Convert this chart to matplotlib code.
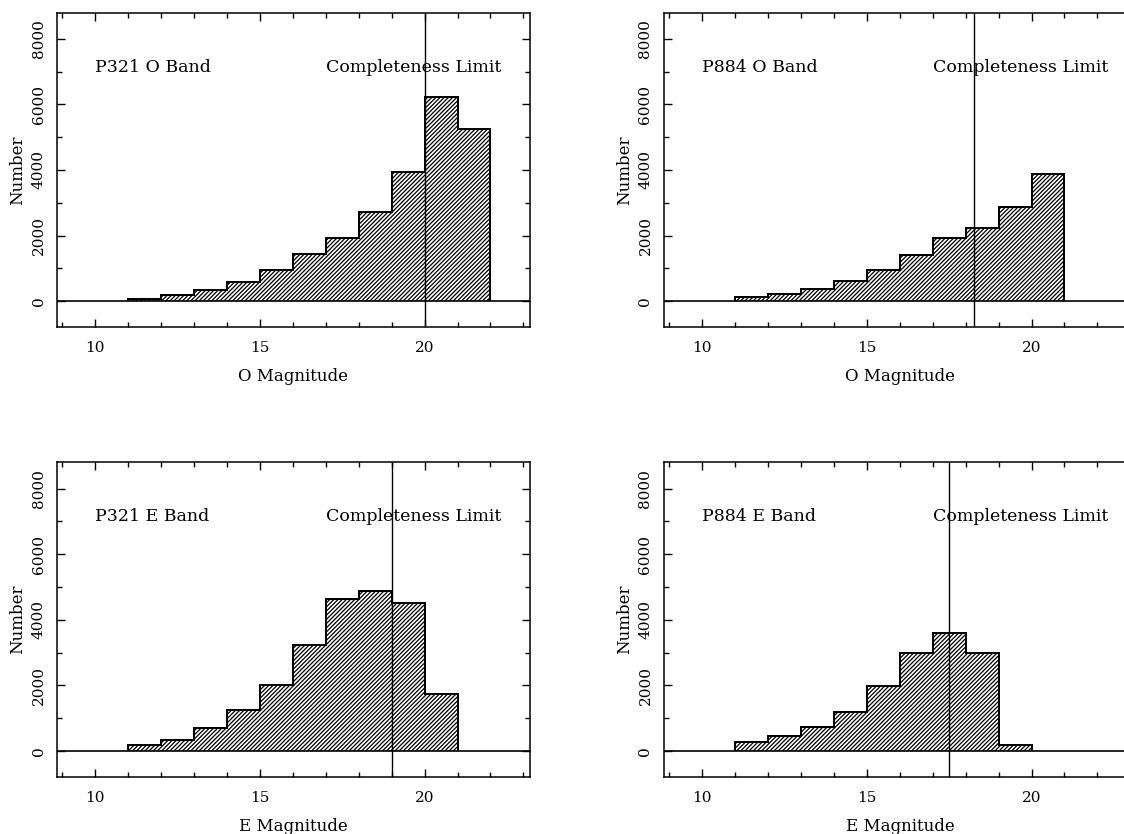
import matplotlib.pyplot as plt
import numpy as np
from matplotlib.ticker import MultipleLocator

plt.rcParams['font.family'] = 'DejaVu Serif'
plt.rcParams['hatch.linewidth'] = 0.9

# star counts per 1-mag bin, first bin starts at 11 mag
p321_o = [70, 180, 325, 580, 960, 1440, 1925, 2705, 3925, 6230, 5235]
p884_o = [120, 200, 355, 600, 945, 1390, 1915, 2240, 2870, 3885]
p321_e = [170, 345, 705, 1250, 2020, 3220, 4635, 4875, 4515, 1735]
p884_e = [260, 445, 725, 1190, 1970, 3000, 3605, 2990, 190]
first_bin = 11

titles = ['P321 O Band', 'P884 O Band', 'P321 E Band', 'P884 E Band']
xlabels = ['O Magnitude', 'O Magnitude', 'E Magnitude', 'E Magnitude']
limits = [20.0, 18.25, 19.0, 17.5]
counts = [p321_o, p884_o, p321_e, p884_e]

# panel rectangles in figure fractions (right column runs off the page edge)
boxes = [[0.0504, 0.6076, 0.4211, 0.3772],
         [0.5904, 0.6076, 0.4211, 0.3772],
         [0.0504, 0.0683, 0.4211, 0.3772],
         [0.5904, 0.0683, 0.4211, 0.3772]]

fig = plt.figure(figsize=(11.24, 8.34), dpi=100)

for i in range(4):
    ax = fig.add_axes(boxes[i])
    vals = np.array(counts[i])
    edges = first_bin + np.arange(len(vals) + 1)

    ax.stairs(vals, edges, fill=True, facecolor='white', edgecolor='black',
              hatch='////////', linewidth=1.2)
    ax.stairs(vals, edges, color='black', linewidth=1.4)
    ax.axhline(0, color='black', linewidth=1.2)
    ax.axvline(limits[i], color='black', linewidth=1.0)

    ax.text(10, 7000, titles[i], fontsize=12.5, ha='left', va='baseline')
    ax.text(17, 7000, 'Completeness Limit', fontsize=12.5, ha='left', va='baseline')

    ax.set_xlim(8.83, 23.2)
    ax.set_ylim(-800, 8800)
    ax.xaxis.set_major_locator(MultipleLocator(5))
    ax.xaxis.set_minor_locator(MultipleLocator(1))
    ax.yaxis.set_major_locator(MultipleLocator(2000))
    ax.yaxis.set_minor_locator(MultipleLocator(1000))
    ax.tick_params(which='both', direction='in', top=True, right=True, width=1.0)
    ax.tick_params(which='major', length=6)
    ax.tick_params(which='minor', length=3.5)
    ax.tick_params(axis='x', labelsize=11, pad=10)
    ax.tick_params(axis='y', labelsize=11, pad=8, labelrotation=90)
    for lab in ax.get_yticklabels():
        lab.set_va('center')
    for s in ax.spines.values():
        s.set_linewidth(1.1)

    ax.text(0.5, -0.129, xlabels[i], transform=ax.transAxes, fontsize=12,
            ha='center', va='top')
    ax.text(-0.083, 0.5, 'Number', transform=ax.transAxes, fontsize=12,
            rotation=90, ha='center', va='center')

fig.savefig('out.png', dpi=100)
